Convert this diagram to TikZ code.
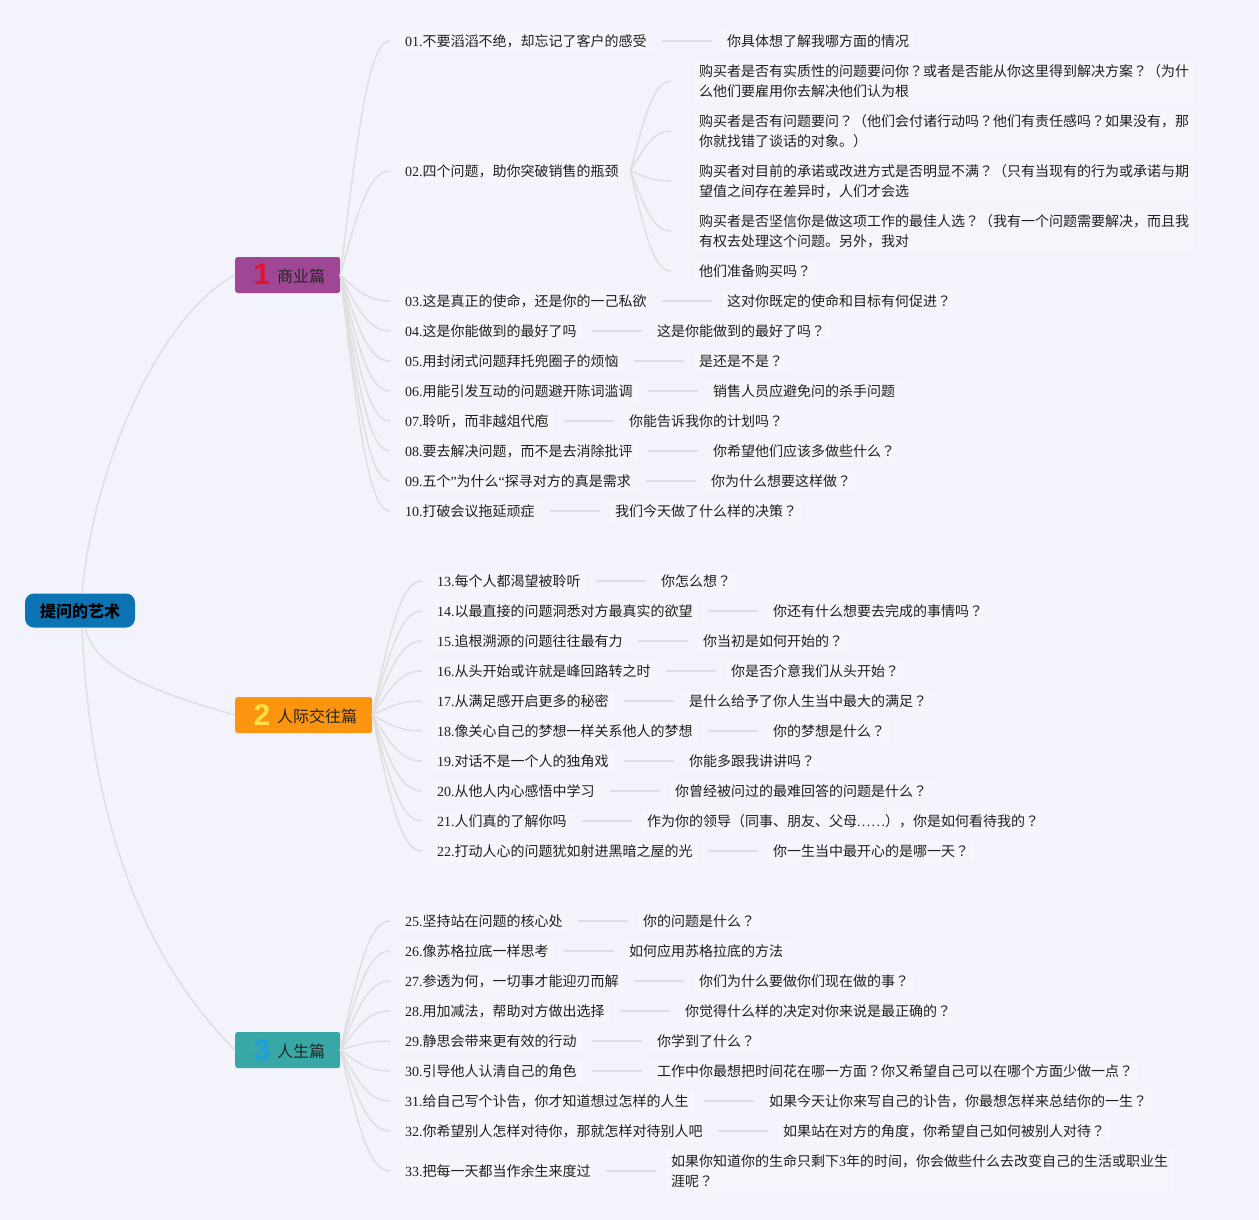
\documentclass[tikz,border=0pt]{standalone}
\usepackage{fontspec}
\usetikzlibrary{calc}
\setmainfont{Noto Sans CJK SC}
\newfontfamily\latf{Liberation Serif}
\newfontfamily\jpf{Noto Sans CJK JP}
\newfontfamily\numf{Liberation Sans}[BoldFont={Liberation Sans Bold}]
\definecolor{bgc}{HTML}{F3F3FB}
\definecolor{txtbg}{HTML}{F5F5FC}
\definecolor{linec}{HTML}{DFDFE1}
\definecolor{txtc}{HTML}{1F1F1F}
\definecolor{rootc}{HTML}{0C74B2}
\definecolor{oneC}{HTML}{9F4795}
\definecolor{twoC}{HTML}{FB950F}
\definecolor{threeC}{HTML}{37A8A5}
\definecolor{iconA}{HTML}{E2142D}
\definecolor{iconB}{HTML}{FDE047}
\definecolor{iconC}{HTML}{1E9FE0}
\newcommand{\qmk}{{\jpf\symbol{"FF1F}}}
\catcode`？=\active
\let？\qmk
\tikzset{
  conn/.style={draw=linec,line width=1.5pt},
  leaf/.style={anchor=west,fill=txtbg,text=txtc,inner xsep=5pt,inner ysep=4pt,outer xsep=10pt,outer ysep=0pt,align=left,font=\fontsize{14}{20}\selectfont},
  sub/.style={leaf,outer xsep=23pt},
  branch/.style={anchor=west,minimum height=36pt,inner xsep=0pt,inner ysep=0pt,text height=14pt,text depth=0pt,rounded corners=2.5pt,text=black!85,font=\fontsize{16}{20}\selectfont},
  rootbox/.style={anchor=center,minimum width=110pt,minimum height=34pt,inner sep=0pt,text height=13.5pt,text depth=0pt,rounded corners=9pt,fill=rootc,text=black,font=\fontsize{16}{20}\selectfont\bfseries},
  icon/.style={inner sep=0pt,font=\fontsize{30}{30}\selectfont\numf\bfseries}
}
\newcommand{\bend}[2]{\draw[conn] let \p1=(#1),\p2=(#2) in (\p1) .. controls ({\x1+0.38*(\x2-\x1)},{\y1+0.68*(\y2-\y1)}) and ({\x1+0.6*(\x2-\x1)},\y2) .. (\p2);}
\newcommand{\rowq}[7]{%
  \node[leaf] (n#2) at (#3,#4) {{\latf #2.}#5};
  \node[leaf] (b#2) at (#6,#4) {#7};
  \draw[conn] (n#2.east) -- (b#2.west);
  \bend{#1.east}{n#2.west}
}
\newcommand{\subq}[3]{%
  \node[sub] (#1) at (671,#2) {#3};
  \bend{$(n02.east)+(-3,0)$}{#1.west}
}
\newcommand{\btxt}[1]{\hspace*{42pt}#1\hspace*{15pt}}
\begin{document}
\begin{tikzpicture}[x=1pt,y=-1pt]
\fill[bgc] (0,0) rectangle (1259,1220);
\useasboundingbox (0,0) rectangle (1259,1220);
\node[rootbox] (root) at (80,610.5) {提问的艺术};
\node[branch,fill=oneC] (k1) at (235,275) {\btxt{商业篇}};
\node[branch,fill=twoC] (k2) at (235,715) {\btxt{人际交往篇}};
\node[branch,fill=threeC] (k3) at (235,1050) {\btxt{人生篇}};
\node[icon,text=iconA] (i1) at (262,274) {1};
\node[icon,text=iconB] (i2) at (262,715) {2};
\node[icon,text=iconC] (i3) at (262,1050) {3};
\draw[conn] ($(root.north)+(2,0)$) .. controls +(12,-130) and +(-75,40) .. (k1.west);
\draw[conn] ($(root.south)+(5,0)$) .. controls +(10,45) and +(-70,-20) .. (k2.west);
\draw[conn] ($(root.south)+(2,0)$) .. controls +(10,232) and +(-70,-70) .. (k3.west);

\rowq{k1}{01}{390}{41}{不要滔滔不绝，却忘记了客户的感受}{712}{你具体想了解我哪方面的情况}
\rowq{k1}{03}{390}{301}{这是真正的使命，还是你的一己私欲}{712}{这对你既定的使命和目标有何促进？}
\rowq{k1}{04}{390}{331}{这是你能做到的最好了吗}{642}{这是你能做到的最好了吗？}
\rowq{k1}{05}{390}{361}{用封闭式问题拜托兜圈子的烦恼}{684}{是还是不是？}
\rowq{k1}{06}{390}{391}{用能引发互动的问题避开陈词滥调}{698}{销售人员应避免问的杀手问题}
\rowq{k1}{07}{390}{421}{聆听，而非越俎代庖}{614}{你能告诉我你的计划吗？}
\rowq{k1}{08}{390}{451}{要去解决问题，而不是去消除批评}{698}{你希望他们应该多做些什么？}
\rowq{k1}{09}{390}{481}{五个{\latf ”}为什么{\latf “}探寻对方的真是需求}{696}{你为什么想要这样做？}
\rowq{k1}{10}{390}{511}{打破会议拖延顽症}{600}{我们今天做了什么样的决策？}
\node[leaf] (n02) at (390,171) {{\latf 02.}四个问题，助你突破销售的瓶颈};
\bend{k1.east}{n02.west}
\subq{s1}{81}{购买者是否有实质性的问题要问你？或者是否能从你这里得到解决方案？（为什\\么他们要雇用你去解决他们认为根}
\subq{s2}{131}{购买者是否有问题要问？（他们会付诸行动吗？他们有责任感吗？如果没有，那\\你就找错了谈话的对象。）}
\subq{s3}{181}{购买者对目前的承诺或改进方式是否明显不满？（只有当现有的行为或承诺与期\\望值之间存在差异时，人们才会选}
\subq{s4}{231}{购买者是否坚信你是做这项工作的最佳人选？（我有一个问题需要解决，而且我\\有权去处理这个问题。另外，我对}
\subq{s5}{271}{他们准备购买吗？}

\rowq{k2}{13}{422}{581}{每个人都渴望被聆听}{646}{你怎么想？}
\rowq{k2}{14}{422}{611}{以最直接的问题洞悉对方最真实的欲望}{758}{你还有什么想要去完成的事情吗？}
\rowq{k2}{15}{422}{641}{追根溯源的问题往往最有力}{688}{你当初是如何开始的？}
\rowq{k2}{16}{422}{671}{从头开始或许就是峰回路转之时}{716}{你是否介意我们从头开始？}
\rowq{k2}{17}{422}{701}{从满足感开启更多的秘密}{674}{是什么给予了你人生当中最大的满足？}
\rowq{k2}{18}{422}{731}{像关心自己的梦想一样关系他人的梦想}{758}{你的梦想是什么？}
\rowq{k2}{19}{422}{761}{对话不是一个人的独角戏}{674}{你能多跟我讲讲吗？}
\rowq{k2}{20}{422}{791}{从他人内心感悟中学习}{660}{你曾经被问过的最难回答的问题是什么？}
\rowq{k2}{21}{422}{821}{人们真的了解你吗}{632}{作为你的领导（同事、朋友、父母{\latf\makebox[28pt][s]{.\hfill.\hfill.\hfill.\hfill.\hfill.}}），你是如何看待我的？}
\rowq{k2}{22}{422}{851}{打动人心的问题犹如射进黑暗之屋的光}{758}{你一生当中最开心的是哪一天？}

\rowq{k3}{25}{390}{921}{坚持站在问题的核心处}{628}{你的问题是什么？}
\rowq{k3}{26}{390}{951}{像苏格拉底一样思考}{614}{如何应用苏格拉底的方法}
\rowq{k3}{27}{390}{981}{参透为何，一切事才能迎刃而解}{684}{你们为什么要做你们现在做的事？}
\rowq{k3}{28}{390}{1011}{用加减法，帮助对方做出选择}{670}{你觉得什么样的决定对你来说是最正确的？}
\rowq{k3}{29}{390}{1041}{静思会带来更有效的行动}{642}{你学到了什么？}
\rowq{k3}{30}{390}{1071}{引导他人认清自己的角色}{642}{工作中你最想把时间花在哪一方面？你又希望自己可以在哪个方面少做一点？}
\rowq{k3}{31}{390}{1101}{给自己写个讣告，你才知道想过怎样的人生}{754}{如果今天让你来写自己的讣告，你最想怎样来总结你的一生？}
\rowq{k3}{32}{390}{1131}{你希望别人怎样对待你，那就怎样对待别人吧}{768}{如果站在对方的角度，你希望自己如何被别人对待？}
\rowq{k3}{33}{390}{1171}{把每一天都当作余生来度过}{656}{如果你知道你的生命只剩下{\latf 3}年的时间，你会做些什么去改变自己的生活或职业生\\涯呢？}
\end{tikzpicture}
\end{document}
